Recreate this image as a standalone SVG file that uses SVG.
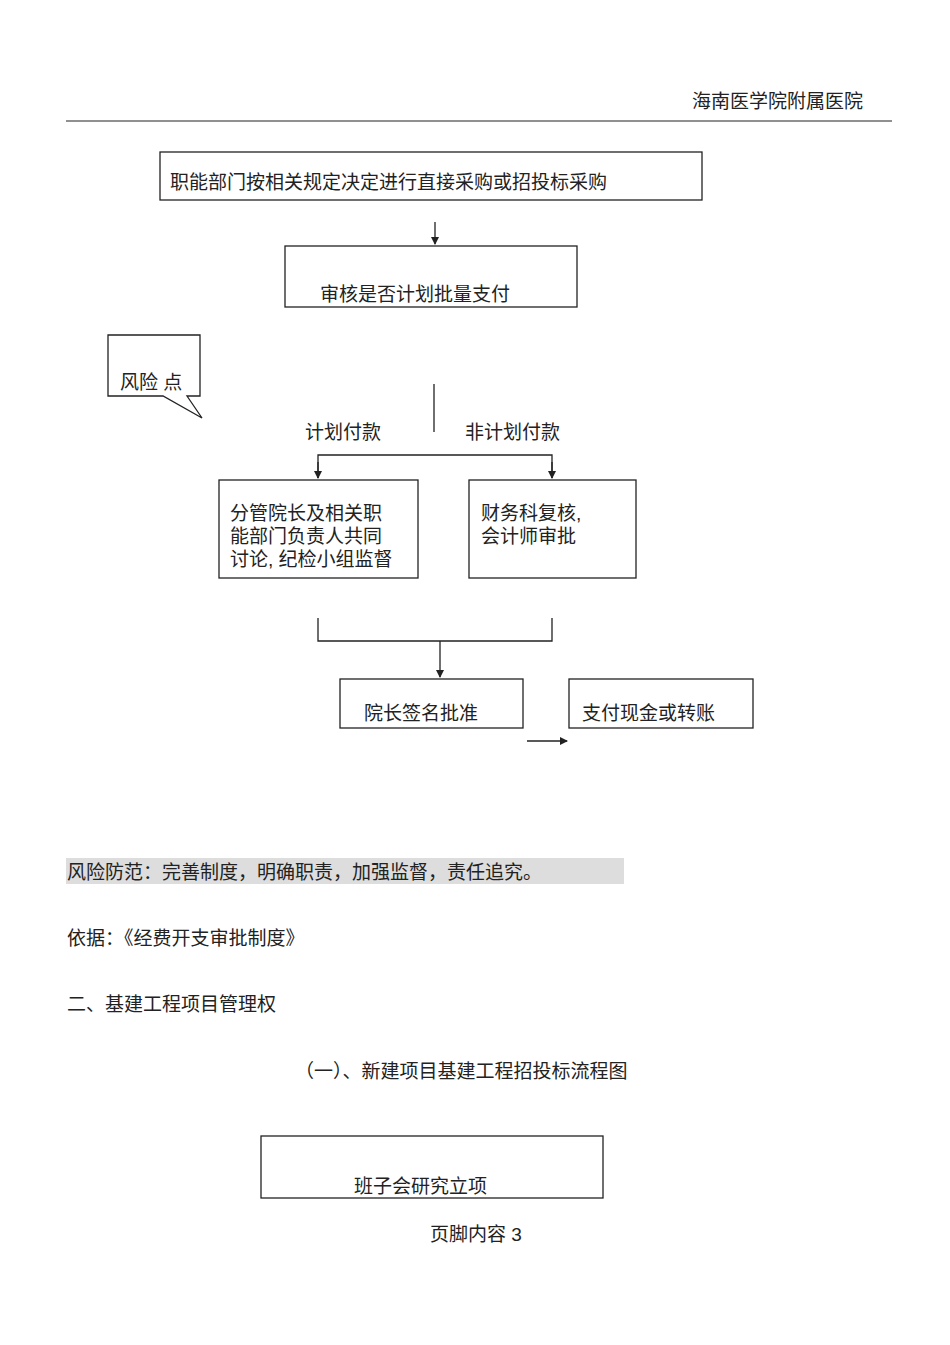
<svg xmlns="http://www.w3.org/2000/svg" width="950" height="1345" viewBox="0 0 950 1345">
<style>
text{font-family:"Liberation Sans","Noto Sans CJK SC",sans-serif;font-size:19px;fill:#222}
.b{fill:#fff;stroke:#222;stroke-width:1.3}
.l{fill:none;stroke:#222;stroke-width:1.3}
</style>
<defs><marker id="a" markerWidth="8" markerHeight="8" refX="7" refY="4" orient="auto" markerUnits="userSpaceOnUse"><path d="M0,0L8,4L0,8z" fill="#222"/></marker></defs>
<rect width="950" height="1345" fill="#fff"/>
<text x="692" y="108">海南医学院附属医院</text>
<line x1="66" y1="121" x2="892" y2="121" stroke="#222" stroke-width="1.2"/>
<g id="connectors">
<line class="l" x1="435" y1="222" x2="435" y2="244" marker-end="url(#a)"/>
<line class="l" x1="434" y1="384" x2="434" y2="432"/>
<polyline class="l" points="318,478 318,455 552,455 552,478" />
<line class="l" x1="318" y1="462" x2="318" y2="478" marker-end="url(#a)"/>
<line class="l" x1="552" y1="462" x2="552" y2="478" marker-end="url(#a)"/>
<polyline class="l" points="318,618 318,641 552,641 552,618"/>
<line class="l" x1="440" y1="641" x2="440" y2="677" marker-end="url(#a)"/>
<line class="l" x1="527" y1="741" x2="567" y2="741" marker-end="url(#a)"/>
</g>
<g id="n1"><rect class="b" x="160" y="152" width="542" height="48"/><text x="170" y="189">职能部门按相关规定决定进行直接采购或招投标采购</text></g>
<g id="n2"><rect class="b" x="285" y="246" width="292" height="61"/><text x="320" y="301">审核是否计划批量支付</text></g>
<g id="risk"><path class="b" d="M108,335H200V396H187L202,418L163,396H108Z"/><text x="120" y="389">风险 点</text></g>
<text x="305" y="439">计划付款</text>
<text x="465" y="439">非计划付款</text>
<g id="n3"><rect class="b" x="219" y="480" width="199" height="98"/><text x="230" y="520">分管院长及相关职</text><text x="230" y="543">能部门负责人共同</text><text x="230" y="566">讨论, 纪检小组监督</text></g>
<g id="n4"><rect class="b" x="469" y="480" width="167" height="98"/><text x="481" y="520">财务科复核,</text><text x="481" y="543">会计师审批</text></g>
<g id="n5"><rect class="b" x="340" y="679" width="183" height="49"/><text x="364" y="720">院长签名批准</text></g>
<g id="n6"><rect class="b" x="569" y="679" width="184" height="49"/><text x="582" y="720">支付现金或转账</text></g>
<rect x="66" y="858" width="558" height="26" fill="#ddd"/>
<text x="67" y="879">风险防范：完善制度，明确职责，加强监督，责任追究。</text>
<text x="67" y="945">依据：《经费开支审批制度》</text>
<text x="67" y="1011">二、基建工程项目管理权</text>
<text x="295" y="1078">（一）、新建项目基建工程招投标流程图</text>
<g id="n7"><rect class="b" x="261" y="1136" width="342" height="62"/><text x="354" y="1193">班子会研究立项</text></g>
<text x="430" y="1241">页脚内容 3</text>
</svg>
